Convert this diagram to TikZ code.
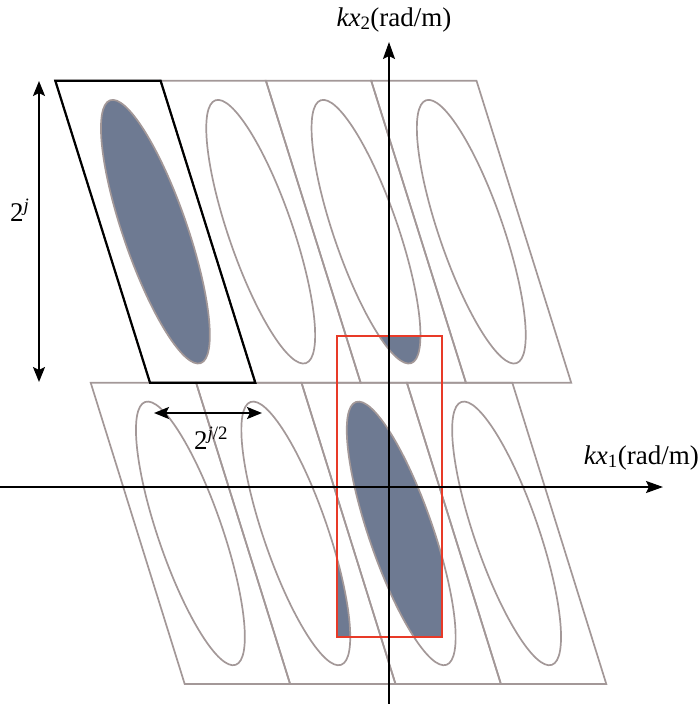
\documentclass[tikz,border=0pt]{standalone}
\usepackage{fontspec}
\setmainfont{Liberation Serif}
\usetikzlibrary{arrows.meta}
\definecolor{cellgray}{RGB}{163,152,152}
\definecolor{slate}{RGB}{110,122,146}
\definecolor{redbox}{RGB}{232,58,40}
\begin{document}
\begin{tikzpicture}[x=1pt,y=-1pt,
  cell/.style={draw=cellgray, line width=1.7pt, line join=miter},
  blackcell/.style={draw=black, line width=2.2pt, line join=miter},
  ell/.style={draw=cellgray, line width=1.7pt},
  redrect/.style={draw=redbox, line width=2.2pt},
  axis/.style={line width=2pt, -{Stealth[length=17pt,width=12pt,inset=3pt]}},
  dim/.style={line width=2.2pt, {Stealth[length=15pt,width=12pt,inset=3pt]}-{Stealth[length=15pt,width=12pt,inset=3pt]}},
  lab/.style={inner sep=0pt, font=\fontsize{27}{27}\selectfont}
]
\useasboundingbox (0,0) rectangle (700,704);
% top row cells
\foreach \k in {0,...,3}{
  \pgfmathsetmacro\tl{55.3+105.3*\k}
  \draw[cell] (\tl,80.7) -- ++(105.3,0) -- ++(94.7,302) -- ++(-105.3,0) -- cycle;
}
% bottom row cells
\foreach \k in {0,...,3}{
  \pgfmathsetmacro\tl{90.7+105.4*\k}
  \draw[cell] (\tl,382.7) -- ++(105.4,0) -- ++(94,301.3) -- ++(-105.4,0) -- cycle;
}
% filled parts inside red window
\begin{scope}
  \clip (336.7,335.7) rectangle (441.7,637.3);
  \fill[slate, rotate around={19:(366,231.7)}] (366,231.7) ellipse [x radius=32, y radius=139];
  \fill[slate, rotate around={19:(295.8,533.4)}] (295.8,533.4) ellipse [x radius=32, y radius=139];
  \fill[slate, rotate around={19:(401.2,533.4)}] (401.2,533.4) ellipse [x radius=32, y radius=139];
\end{scope}
% filled top-left ellipse
\fill[slate, rotate around={19:(155.4,231.7)}] (155.4,231.7) ellipse [x radius=32, y radius=139];
% ellipse outlines
\foreach \k in {0,...,3}{
  \pgfmathsetmacro\cx{155.4+105.3*\k}
  \draw[ell, rotate around={19:(\cx,231.7)}] (\cx,231.7) ellipse [x radius=32, y radius=139];
  \pgfmathsetmacro\cxb{190.4+105.4*\k}
  \draw[ell, rotate around={19:(\cxb,533.4)}] (\cxb,533.4) ellipse [x radius=32, y radius=139];
}
% black cell
\draw[blackcell] (55.3,80.7) -- ++(105.3,0) -- ++(94.7,302) -- ++(-105.3,0) -- cycle;
% red window
\draw[redrect] (336.7,335.7) rectangle (441.7,637.3);
% axes
\coordinate (xs) at (0,487);
\coordinate (xe) at (663,487);
\coordinate (ys) at (389,704);
\coordinate (ye) at (389,42);
\draw[axis] (xs) -- (xe);
\draw[axis] (ys) -- (ye);
% dimension arrows
\coordinate (vt) at (39,81);
\coordinate (vb) at (39,382);
\draw[dim] (vt) -- (vb);
\coordinate (hl) at (154,413);
\coordinate (hr) at (262,413);
\draw[dim] (hl) -- (hr);
% labels
\node[lab, anchor=base] (kx2) at (394,26) {\textit{kx}\textsubscript{2}(rad/m)};
\node[lab, anchor=base east] (kx1) at (699,464) {\textit{kx}\textsubscript{1}(rad/m)};
\node[lab, anchor=base west] (lj) at (10,221) {2\textsuperscript{\textit{j}}};
\node[lab, anchor=base west] (lj2) at (194,449) {2\textsuperscript{\textit{j}/2}};
\end{tikzpicture}
\end{document}
